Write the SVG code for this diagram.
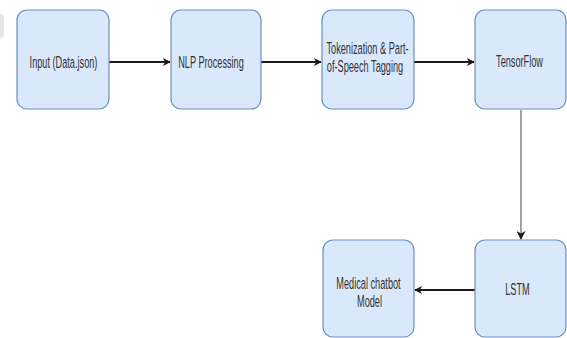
<svg xmlns="http://www.w3.org/2000/svg" width="567" height="338" viewBox="0 0 567 338">
<style>
.box{fill:#dae8fc;stroke:#6c8ebf;stroke-width:1.2}
.t{font-family:"Liberation Sans",Arial,sans-serif;font-size:17px;fill:#333333;text-anchor:middle}
.e{fill:none;stroke:#1a1a1a;stroke-width:2}
.v{fill:none;stroke:#555555;stroke-width:1.1}
</style>
<defs>
<marker id="ah" viewBox="0 0 10 10" refX="9" refY="5" markerWidth="8" markerHeight="9" markerUnits="userSpaceOnUse" orient="auto">
<path d="M0,0 L10,5 L0,10 L3,5 Z" fill="#1a1a1a"/>
</marker>
<marker id="ah2" viewBox="0 0 10 10" refX="9" refY="5" markerWidth="9" markerHeight="9" markerUnits="userSpaceOnUse" orient="auto">
<path d="M0,0 L10,5 L0,10 L3,5 Z" fill="#1a1a1a"/>
</marker>
</defs>
<rect x="-6" y="14" width="10" height="24" rx="3" fill="#e6e6e6"/>
<g id="connectors">
<line class="e" x1="109" y1="62" x2="170" y2="62" marker-end="url(#ah)"/>
<line class="e" x1="261" y1="62" x2="321" y2="62" marker-end="url(#ah)"/>
<line class="e" x1="414" y1="62" x2="474" y2="62" marker-end="url(#ah)"/>
<line class="v" x1="521" y1="110" x2="521" y2="239" marker-end="url(#ah2)"/>
<line class="e" x1="475" y1="290" x2="415" y2="290" marker-end="url(#ah)"/>
</g>
<g id="input">
<rect class="box" x="17" y="10" width="92" height="99" rx="10"/>
<text class="t" transform="matrix(0.54 0 0 1 63.5 68)">Input (Data.json)</text>
</g>
<g id="nlp">
<rect class="box" x="171" y="10" width="90" height="99" rx="10"/>
<text class="t" transform="matrix(0.54 0 0 1 211 68)">NLP Processing</text>
</g>
<g id="tokenization">
<rect class="box" x="322" y="10" width="92" height="99" rx="10"/>
<text class="t" transform="matrix(0.54 0 0 1 367.5 54)">Tokenization &amp; Part-</text>
<text class="t" transform="matrix(0.54 0 0 1 365 72)">of-Speech Tagging</text>
</g>
<g id="tensorflow">
<rect class="box" x="475" y="10" width="91" height="99" rx="10"/>
<text class="t" transform="matrix(0.54 0 0 1 519.5 67)">TensorFlow</text>
</g>
<g id="lstm">
<rect class="box" x="475" y="240" width="91" height="97" rx="10"/>
<text class="t" transform="matrix(0.54 0 0 1 517.5 295)">LSTM</text>
</g>
<g id="medical">
<rect class="box" x="323" y="240" width="91" height="97" rx="10"/>
<text class="t" transform="matrix(0.54 0 0 1 368.5 289)">Medical chatbot</text>
<text class="t" transform="matrix(0.54 0 0 1 369.5 307)">Model</text>
</g>
</svg>
